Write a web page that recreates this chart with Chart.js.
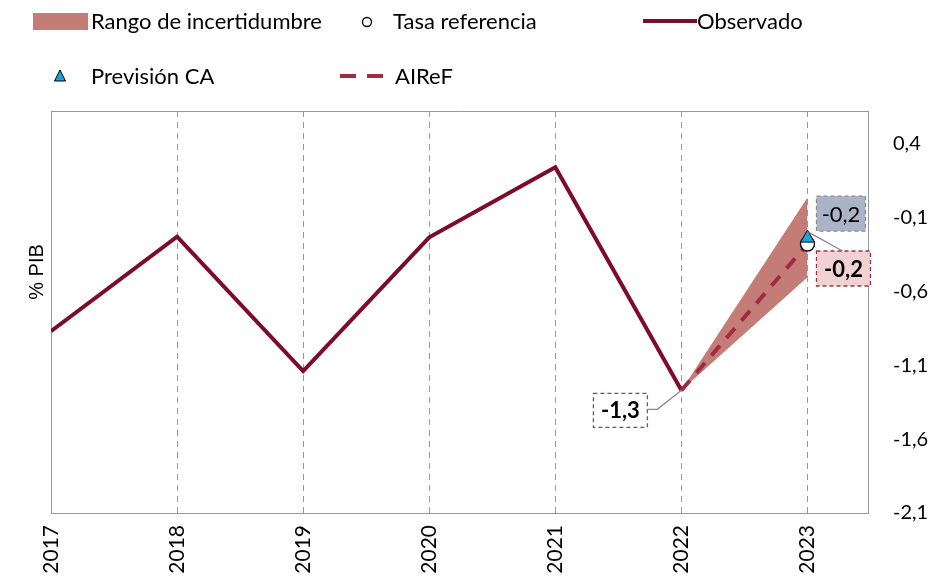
<!DOCTYPE html>
<html>
<head>
<meta charset="utf-8">
<script src="https://cdn.jsdelivr.net/npm/chart.js@4/dist/chart.umd.min.js"></script>
<style>
  html, body { margin: 0; padding: 0; background: #fff; }
  #wrap { width: 931px; height: 579px; }
</style>
</head>
<body>
<div id="wrap"><canvas id="myChart" width="931" height="579"></canvas></div>
<script>
// datos
const years = [2017, 2018, 2019, 2020, 2021, 2022];
const observado = [-0.87, -0.23, -1.14, -0.235, 0.24, -1.27];
const proyYears = [2022, 2023];
const aireF = [-1.27, -0.28];
const rangoSup = [-1.27, 0.035];
const rangoInf = [-1.27, -0.505];
const tasaReferencia = [-0.28];
const previsionCA = [-0.24];
const yTicks = [0.4, -0.1, -0.6, -1.1, -1.6, -2.1];
const etiquetas = ['-1,3', '-0,2', '-0,2'];

const FONT = 'Lato, "Gill Sans", sans-serif';
const MAROON = '#7E0B2C';
const DASHED = '#A12B40';
const BAND = '#C47C76';
const BLUE = '#1BA3DD';

const pts = (xs, ys) => xs.map((x, i) => ({ x: x, y: ys[i] }));

const legendItems = [
    { text: 'Rango de incertidumbre', x: 91, y: 21, kind: 'rect', sx: 33 },
    { text: 'Tasa referencia', x: 393, y: 21, kind: 'circle', sx: 367 },
    { text: 'Observado', x: 697, y: 21, kind: 'line', sx: 643 },
    { text: 'Previsión CA', x: 91, y: 76, kind: 'triangle', sx: 60 },
    { text: 'AIReF', x: 395, y: 76, kind: 'dash', sx: 340 }
];

const extras = {
    id: 'extras',
    beforeDatasetsDraw(chart) {
        const { ctx, chartArea: a } = chart;
        ctx.save();
        ctx.strokeStyle = '#999';
        ctx.lineWidth = 1;
        ctx.beginPath();
        ctx.moveTo(a.left + 0.5, a.bottom);
        ctx.lineTo(a.left + 0.5, a.top + 0.5);
        ctx.lineTo(a.right, a.top + 0.5);
        ctx.stroke();
        ctx.restore();
    },
    afterDraw(chart) {
        const { ctx } = chart;
        const xs = chart.scales.x, ys = chart.scales.y;

        // leyenda
        ctx.save();
        ctx.font = '22px ' + FONT;
        ctx.textBaseline = 'middle';
        legendItems.forEach(it => {
            ctx.fillStyle = '#000';
            ctx.fillText(it.text, it.x, it.y + 1);
            if (it.kind === 'rect') {
                ctx.fillStyle = BAND;
                ctx.fillRect(it.sx, it.y - 8, 55, 17);
            } else if (it.kind === 'circle') {
                ctx.beginPath();
                ctx.arc(it.sx, it.y + 1, 4.5, 0, Math.PI * 2);
                ctx.fillStyle = '#fff';
                ctx.fill();
                ctx.lineWidth = 1.3;
                ctx.strokeStyle = '#000';
                ctx.stroke();
            } else if (it.kind === 'line') {
                ctx.fillStyle = MAROON;
                ctx.fillRect(it.sx, it.y - 2, 54, 4);
            } else if (it.kind === 'triangle') {
                ctx.beginPath();
                ctx.moveTo(it.sx, it.y - 6);
                ctx.lineTo(it.sx + 5.5, it.y + 5);
                ctx.lineTo(it.sx - 5.5, it.y + 5);
                ctx.closePath();
                ctx.fillStyle = BLUE;
                ctx.fill();
                ctx.lineWidth = 1;
                ctx.strokeStyle = '#000';
                ctx.stroke();
            } else if (it.kind === 'dash') {
                ctx.fillStyle = DASHED;
                ctx.fillRect(it.sx, it.y - 2, 16, 4);
                ctx.fillRect(it.sx + 27, it.y - 2, 16, 4);
            }
        });
        ctx.restore();

        // titulo eje
        ctx.save();
        ctx.translate(37, 272);
        ctx.rotate(-Math.PI / 2);
        ctx.font = '20px "Liberation Sans", Arial, sans-serif';
        ctx.fillStyle = '#000';
        ctx.textAlign = 'center';
        ctx.textBaseline = 'middle';
        ctx.fillText('% PIB', 0, 0);
        ctx.restore();

        // etiquetas de datos
        const box = (x1, y1, x2, y2, fill, stroke, text, bold) => {
            ctx.save();
            ctx.fillStyle = fill;
            ctx.fillRect(x1, y1, x2 - x1, y2 - y1);
            ctx.setLineDash([4, 3]);
            ctx.lineWidth = 1.3;
            ctx.strokeStyle = stroke;
            ctx.strokeRect(x1, y1, x2 - x1, y2 - y1);
            ctx.setLineDash([]);
            ctx.fillStyle = '#000';
            ctx.font = (bold ? 'bold ' : '') + '22px ' + FONT;
            ctx.textAlign = 'center';
            ctx.textBaseline = 'middle';
            ctx.fillText(text, (x1 + x2) / 2, (y1 + y2) / 2 + 1);
            ctx.restore();
        };
        const leader = (list) => {
            ctx.save();
            ctx.strokeStyle = '#888';
            ctx.lineWidth = 1.2;
            ctx.beginPath();
            list.forEach((p, i) => i ? ctx.lineTo(p[0], p[1]) : ctx.moveTo(p[0], p[1]));
            ctx.stroke();
            ctx.restore();
        };

        const px22 = xs.getPixelForValue(2022), py22 = ys.getPixelForValue(observado[5]);
        leader([[px22 - 34, py22 + 19], [px22 - 24, py22 + 19], [px22, py22]]);
        box(px22 - 88, py22 + 3, px22 - 34, py22 + 37, '#fff', '#A0404F', etiquetas[0], true);

        const px23 = xs.getPixelForValue(2023);
        const pyCA = ys.getPixelForValue(previsionCA[0]);
        const pyRef = ys.getPixelForValue(tasaReferencia[0]);
        leader([[px23 + 1, pyCA - 6], [px23 + 35, pyRef + 7]]);
        box(px23 + 9, pyCA - 42, px23 + 58, pyCA - 7, '#AAB4C6', '#8A8A8A', etiquetas[1], false);
        box(px23 + 9, pyRef + 7, px23 + 63, pyRef + 42, '#F1D2D2', '#9E3346', etiquetas[2], true);
    }
};

new Chart(document.getElementById('myChart'), {
    type: 'line',
    data: {
        datasets: [
            {
                label: 'Previsión CA',
                data: pts([2023], previsionCA),
                showLine: false,
                pointStyle: 'triangle',
                pointRadius: 8,
                backgroundColor: BLUE,
                borderColor: '#000',
                pointBorderWidth: 1,
                order: 0
            },
            {
                label: 'Tasa referencia',
                data: pts([2023], tasaReferencia),
                showLine: false,
                pointStyle: 'circle',
                pointRadius: 7,
                backgroundColor: '#fff',
                borderColor: '#000',
                pointBorderWidth: 1.3,
                order: 1
            },
            {
                label: 'AIReF',
                data: pts(proyYears, aireF),
                borderColor: DASHED,
                borderWidth: 4,
                borderDash: [13, 10],
                pointRadius: 0,
                fill: false,
                order: 2
            },
            {
                label: 'Observado',
                data: pts(years, observado),
                borderColor: MAROON,
                borderWidth: 4,
                pointRadius: 0,
                fill: false,
                order: 3
            },
            {
                label: 'Rango sup',
                data: pts(proyYears, rangoSup),
                borderWidth: 0,
                pointRadius: 0,
                fill: false,
                order: 4
            },
            {
                label: 'Rango de incertidumbre',
                data: pts(proyYears, rangoInf),
                borderWidth: 0,
                pointRadius: 0,
                backgroundColor: BAND,
                fill: '-1',
                order: 5
            }
        ]
    },
    options: {
        responsive: false,
        animation: false,
        layout: { padding: { left: 51, top: 111, right: 0, bottom: 0 } },
        plugins: {
            legend: { display: false },
            tooltip: { enabled: false }
        },
        scales: {
            x: {
                type: 'linear',
                position: 'bottom',
                min: 2017,
                max: 2023.48,
                grid: { color: '#999', lineWidth: 1, drawTicks: false },
                border: { display: true, color: '#999', dash: [6, 5] },
                ticks: {
                    stepSize: 1,
                    includeBounds: false,
                    autoSkip: false,
                    minRotation: 90,
                    maxRotation: 90,
                    padding: 12,
                    color: '#000',
                    font: { family: FONT, size: 21 },
                    callback: v => String(v)
                },
                afterFit: s => { s.height = 66; }
            },
            y: {
                position: 'right',
                min: -2.1,
                max: 0.62,
                grid: { display: false, drawTicks: false },
                border: { display: true, color: '#999' },
                ticks: {
                    padding: 25,
                    color: '#000',
                    font: { family: FONT, size: 20 },
                    callback: v => v.toFixed(1).replace('.', ',')
                },
                afterBuildTicks: s => { s.ticks = yTicks.map(v => ({ value: v })); },
                afterFit: s => { s.width = 63; }
            }
        }
    },
    plugins: [extras]
});
</script>
</body>
</html>
